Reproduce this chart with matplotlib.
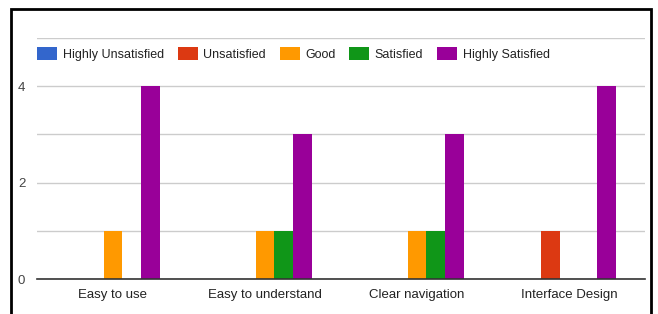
import numpy as np
import matplotlib.pyplot as plt
from matplotlib.patches import Rectangle

plt.rcParams['font.family'] = ['Liberation Sans', 'DejaVu Sans']

# data
categories = ['Easy to use', 'Easy to understand', 'Clear navigation', 'Interface Design']
series = ['Highly Unsatisfied', 'Unsatisfied', 'Good', 'Satisfied', 'Highly Satisfied']
highly_unsatisfied = [0, 0, 0, 0]
unsatisfied = [0, 0, 0, 1]
good = [1, 1, 1, 0]
satisfied = [0, 1, 1, 0]
highly_satisfied = [4, 3, 3, 4]
colors = ['#3366cc', '#dc3912', '#ff9900', '#109618', '#990099']

values = [highly_unsatisfied, unsatisfied, good, satisfied, highly_satisfied]

fig = plt.figure(figsize=(6.58, 3.14), dpi=100)
ax = fig.add_axes([37/658, 1 - 279/314, (645-37)/658, (279-38)/314])

x = np.arange(len(categories))
w = 0.618 / len(series)
for i, (name, vals) in enumerate(zip(series, values)):
    ax.bar(x + (i - 2) * w, vals, width=w, color=colors[i], label=name, zorder=3)

ax.set_xlim(-0.5, len(categories) - 0.5)
ax.set_ylim(0, 5)
ax.set_yticks([0, 1, 2, 3, 4, 5])
ax.set_yticklabels(['0', '', '2', '', '4', ''])
ax.grid(axis='y', color='#cccccc', linewidth=1, zorder=0)
ax.set_xticks(x)
ax.set_xticklabels(categories, fontsize=9.5, color='#222222')
ax.tick_params(axis='both', length=0)
ax.tick_params(axis='y', pad=8.5, labelsize=9.5, labelcolor='#444444')
ax.tick_params(axis='x', pad=7)
for s in ['top', 'right', 'left']:
    ax.spines[s].set_visible(False)
ax.spines['bottom'].set_color('#333333')
ax.spines['bottom'].set_linewidth(1.2)
ax.spines['bottom'].set_zorder(4)

ax.legend(loc='center left', bbox_to_anchor=(0, 0.934), ncol=5, frameon=False,
          fontsize=9, handlelength=1.6, handleheight=1.25, handletextpad=0.45,
          columnspacing=1.1, borderaxespad=0, borderpad=0, labelcolor='#222222')

# outer frame
fig.patches.append(Rectangle((11/658, -0.05), (651-11)/658, 1.05 - 9/314,
                             transform=fig.transFigure, fill=False,
                             edgecolor='black', linewidth=2))

fig.savefig('out.png', dpi=100)
